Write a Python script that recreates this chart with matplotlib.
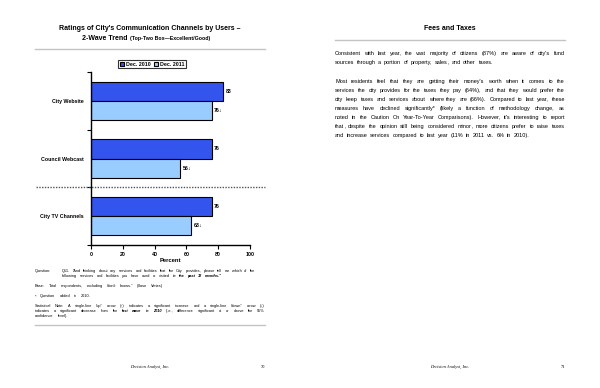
import matplotlib
matplotlib.use('Agg')
import matplotlib.pyplot as plt
from matplotlib.lines import Line2D
import numpy as np

plt.rcParams['font.family'] = ['Liberation Sans', 'DejaVu Sans']

# chart data
channels = ['City Website', 'Council Webcast', 'City TV Channels']
dec2010 = [83, 76, 76]
dec2011 = [76, 56, 63]
sig2011 = ['\u2193', '\u2193', '\u2193']
xticks = [0, 20, 40, 60, 80, 100]

# page text (words starting with _ are bold italic)
body_p1 = ["Consistent with last year, the vast majority of citizens (87%) are aware of city's fund",
           "sources through a portion of property, sales, and other taxes."]
body_p2 = ["Most residents feel that they are getting their money's worth when it comes to the",
           "services the city provides for the taxes they pay (64%), and that they would prefer the",
           "city keep taxes and services about where they are (66%).  Compared to last year, these",
           "measures have declined significantly* (likely a function of methodology change, as",
           "noted in the Caution On Year-To-Year Comparisons).  However, it's interesting to report",
           "that, despite the opinion still being considered minor, more citizens prefer to raise taxes",
           "and increase services compared to last year (11% in 2011 vs. 6% in 2010)."]
p1_ends = [565, 493]
p2_ends = [565, 565, 565, 565, 565, 565, 530]
question = ["Q11. \u201cAnd thinking about any services and facilities that the City provides, please tell me which of the",
            "following services and facilities you have used or visited _in _the _past _12 _months.\u201d"]
base_note = "Base: Total respondents, excluding \u201cdon't knows.\u201d  (Base Varies)"
added_note = "* Question added in 2010."
stat_note = ["Statistical Note:   A single-line \u201cup\u201d arrow (\u2191) indicates a significant increase and a single-line \u201cdown\u201d arrow (\u2193)",
             "indicates a significant decrease from the _last _wave _in _2010 (i.e., difference significant at or above the 95%",
             "confidence level)."]

body_size, note_size = 4.0, 2.8

W, H = 600, 388
fig = plt.figure(figsize=(6, 3.88), dpi=100)
renderer = fig.canvas.get_renderer()


def fx(px):
    return px / W


def fy(py):
    return 1 - py / H


def line_text(x0, x1, y, line, size):
    # one text per word, spread so the line runs from x0 to x1 (pixels)
    base = y + size * 100 / 72 * 0.35
    words = []
    for w in line.split():
        kw = {}
        if w.startswith('_'):
            w = w[1:]
            kw = dict(weight='bold', style='italic')
        # a lone trailing comma gets its own text, else the word sits low
        tail = None
        if w.endswith(',') and not any(c in w[:-1] for c in 'gjpqy()'):
            w, tail = w[:-1], ','
        t = fig.text(0, fy(base), w, fontsize=size, va='baseline', ha='left', **kw)
        c = None
        if tail:
            c = fig.text(0, fy(base), tail, fontsize=size, va='baseline', ha='left', **kw)
        words.append((t, c))
    widths = []
    for t, c in words:
        wt = t.get_window_extent(renderer).width
        wc = c.get_window_extent(renderer).width if c else 0
        widths.append((wt, wc))
    total = sum(a + b for a, b in widths)
    space = size * 100 / 72 * 0.28
    if len(words) > 1:
        gap = max(((x1 - x0) - total) / (len(words) - 1), space)
    else:
        gap = space
    x = x0
    for (t, c), (wt, wc) in zip(words, widths):
        t.set_x(fx(round(x)))
        if c:
            c.set_x(fx(round(x) + wt))
        x += wt + wc + gap


def rule(x0, x1, y, color='#c4c4c4', lw=1.0):
    fig.add_artist(Line2D([fx(x0), fx(x1)], [fy(y), fy(y)], color=color, lw=lw,
                          transform=fig.transFigure))


# ---- left page ----
fig.text(fx(150), fy(29), "Ratings of City's Communication Channels by Users \u2013",
         ha='center', va='center', fontsize=5, weight='bold')
fig.text(fx(128), fy(38), "2-Wave Trend", ha='right', va='center', fontsize=5, weight='bold')
fig.text(fx(129.5), fy(38.5), "(Top-Two Box\u2014Excellent/Good)", ha='left', va='center',
         fontsize=3.8, weight='bold')
rule(35, 265, 49)

ax = fig.add_axes([fx(91), fy(245), fx(250) - fx(91), fy(72) - fy(245)])
y = np.arange(len(channels))
h = 0.33
b1 = ax.barh(y - h / 2, dec2010, height=h, color='#3355ee', edgecolor='black', lw=0.8,
             label='Dec. 2010')
b2 = ax.barh(y + h / 2, dec2011, height=h, color='#99ccff', edgecolor='black', lw=0.8,
             label='Dec. 2011')
for i in range(len(channels)):
    ax.text(dec2010[i] + 1.5, y[i] - h / 2, str(dec2010[i]), va='center', ha='left',
            fontsize=3.8, weight='bold')
    ax.text(dec2011[i] + 1.5, y[i] + h / 2, f"{dec2011[i]}{sig2011[i]}", va='center', ha='left',
            fontsize=3.8, weight='bold')

ax.set_xlim(0, 100)
ax.set_ylim(2.5, -0.5)
ax.set_xticks(xticks)
ax.set_xticklabels([str(v) for v in xticks], fontsize=3.8, weight='bold')
ax.set_yticks(y)
ax.set_yticklabels(channels, fontsize=3.8, weight='bold')
ax.set_yticks([-0.5, 0.5, 1.5, 2.5], minor=True)
ax.tick_params(axis='y', which='major', length=0, pad=5)
ax.tick_params(axis='y', which='minor', length=3, width=0.8, direction='out')
ax.tick_params(axis='x', length=3, width=0.8, direction='out', pad=2)
for s in ['top', 'right']:
    ax.spines[s].set_visible(False)
for s in ['left', 'bottom']:
    ax.spines[s].set_linewidth(1.0)
ax.set_xlabel('Percent', fontsize=4.2, weight='bold', labelpad=1)

# dotted separator running past the axes
ax.plot([-0.346, 1.094], [1.5, 1.5], transform=ax.get_yaxis_transform(), clip_on=False,
        color='#555555', lw=1.0, ls=(0, (1, 1)))

leg = fig.legend(handles=[b1, b2], loc='center', bbox_to_anchor=(fx(152), fy(64)),
                 ncol=2, fontsize=3.8, frameon=True, fancybox=False, edgecolor='black',
                 handlelength=0.8, handleheight=0.8, handletextpad=0.3, columnspacing=0.6,
                 borderpad=0.3, borderaxespad=0)
leg.get_frame().set_linewidth(0.8)
for t in leg.get_texts():
    t.set_weight('bold')

line_text(35, 50, 271, "Question:", note_size)
line_text(62, 255, 271, question[0], note_size)
line_text(62, 222, 276, question[1], note_size)
line_text(35, 163, 286, base_note, note_size)
line_text(35, 91, 296, added_note, note_size)
line_text(35, 265, 306, stat_note[0], note_size)
line_text(35, 265, 311, stat_note[1], note_size)
line_text(35, 69, 316, stat_note[2], note_size)
rule(35, 265, 325)

fig.text(fx(150), fy(367), "Decision Analyst, Inc.", ha='center', va='center', fontsize=3.2,
         style='italic', family='Liberation Serif')
fig.text(fx(265), fy(367), "70", ha='right', va='center', fontsize=3.2, family='Liberation Serif')

# ---- right page ----
fig.text(fx(450), fy(29), "Fees and Taxes", ha='center', va='center', fontsize=5, weight='bold')
rule(335, 565, 40)
for i, (ln, end) in enumerate(zip(body_p1, p1_ends)):
    line_text(335, end, 53 + 9 * i, ln, body_size)
for i, (ln, end) in enumerate(zip(body_p2, p2_ends)):
    line_text(335, end, 81 + 9 * i, ln, body_size)

fig.text(fx(450), fy(367), "Decision Analyst, Inc.", ha='center', va='center', fontsize=3.2,
         style='italic', family='Liberation Serif')
fig.text(fx(565), fy(367), "71", ha='right', va='center', fontsize=3.2, family='Liberation Serif')

fig.savefig('out.png', dpi=100)
